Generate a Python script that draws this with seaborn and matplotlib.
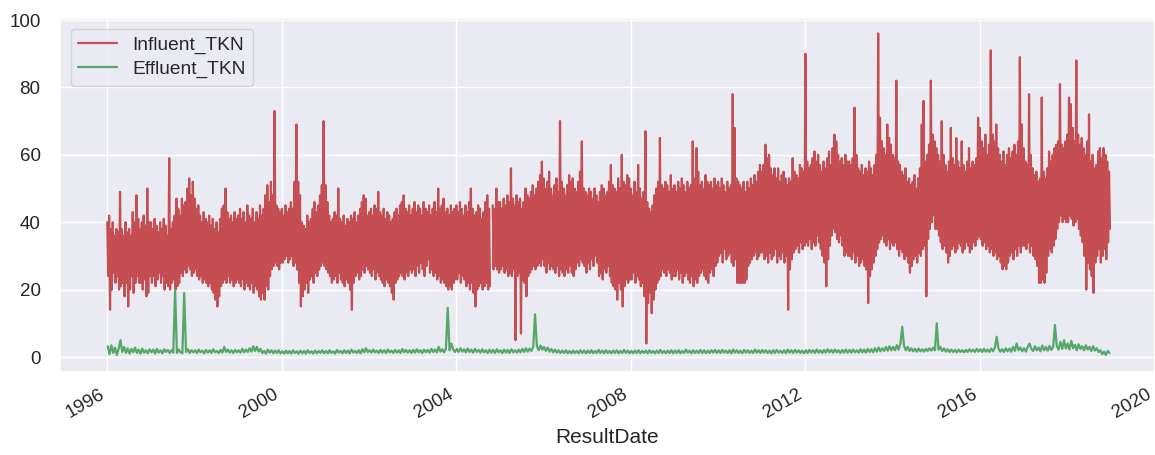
import numpy as np
import pandas as pd
import matplotlib
matplotlib.use("Agg")
import matplotlib.pyplot as plt
import matplotlib.dates as mdates
import seaborn as sns

nan = np.nan
series_names = ["Influent_TKN", "Effluent_TKN"]
years = list(range(1996, 2019))

# Influent TKN: semi-monthly upper / lower readings of the dense daily band
I1996_hi = [40,42,38,40,36,38,37,49,38,36,40,37,38,36,43,40,48,41,38,40,42,39,50,40]
I1996_lo = [24,14,20,25,22,24,20,21,22,18,22,15,20,24,19,22,24,22,22,20,23,18,19,24]
I1997_hi = [40,38,41,39,37,40,38,41,39,36,59,38,40,42,47,44,42,47,45,46,50,53,48,52]
I1997_lo = [22,24,21,23,25,22,24,20,22,21,20,22,23,20,21,22,25,24,26,25,27,26,24,25]
I1998_hi = [47,44,45,42,40,43,41,40,42,39,41,38,40,37,41,44,45,50,43,41,42,40,43,41]
I1998_lo = [26,24,23,24,22,23,22,21,22,20,19,17,15,18,21,22,23,22,24,22,23,21,22,23]
I1999_hi = [42,44,41,43,40,45,42,41,44,40,43,41,45,42,44,48,51,46,52,48,73,45,44,43]
I1999_lo = [22,21,23,20,22,21,20,22,19,21,20,18,17,19,17,21,20,24,26,27,28,27,26,28]
I2000_hi = [44,42,45,43,44,46,44,52,69,52,48,40,39,38,42,40,41,44,46,43,45,48,51,70]
I2000_lo = [28,29,30,28,29,30,27,28,26,22,15,18,20,22,19,23,24,22,25,24,26,27,28,27]
I2001_hi = [51,46,42,40,41,43,42,50,41,40,42,39,41,40,42,41,43,40,42,44,46,48,47,42]
I2001_lo = [26,25,24,22,23,24,22,25,23,22,21,23,22,20,14,22,24,25,23,24,26,25,27,26]
I2002_hi = [43,44,42,45,44,49,43,42,44,41,43,42,40,41,43,44,42,45,46,48,44,43,45,42]
I2002_lo = [25,24,26,23,25,24,23,22,21,23,22,21,19,17,22,23,24,25,24,23,25,24,26,25]
I2003_hi = [44,46,43,45,44,42,46,44,43,45,42,44,46,43,50,44,45,47,43,44,42,45,43,44]
I2003_lo = [26,24,27,25,28,26,24,27,29,25,26,24,25,23,24,22,23,22,21,20,21,20,22,23]
I2004_hi = [45,43,46,44,42,45,43,46,50,44,42,43,45,44,41,43,46,48,44,nan,45,44,50,46]
I2004_lo = [23,25,22,24,23,21,22,20,22,19,15,20,21,22,20,21,22,20,21,nan,26,27,26,25]
I2005_hi = [46,44,47,45,48,46,56,47,45,48,46,47,44,46,50,48,47,49,51,48,50,52,54,58]
I2005_lo = [26,27,25,26,24,25,24,26,5,24,25,7,23,22,18,24,25,26,27,26,27,28,27,29]
I2006_hi = [53,50,52,55,50,48,51,53,49,70,52,50,48,51,54,52,53,50,49,52,55,64,50,49]
I2006_lo = [27,25,28,26,27,26,25,27,24,26,25,24,26,25,27,25,24,26,28,27,29,28,27,25]
I2007_hi = [48,50,49,47,50,48,46,49,51,50,48,49,52,57,51,50,49,53,50,60,52,51,54,53]
I2007_lo = [28,26,29,27,30,28,24,25,23,26,25,27,24,22,21,20,17,22,20,15,21,23,22,23]
I2008_hi = [50,48,52,49,57,50,47,49,67,46,44,43,45,48,50,52,65,51,50,52,51,49,54,50]
I2008_lo = [23,25,22,24,23,21,22,18,4,16,19,13,17,20,22,23,24,26,25,24,26,25,23,24]
I2009_hi = [51,49,52,50,53,51,49,52,50,51,64,53,62,55,51,52,50,54,52,51,52,50,53,51]
I2009_lo = [24,26,23,25,22,24,25,23,22,24,21,23,22,24,25,26,24,23,22,25,26,24,27,28]
I2010_hi = [52,50,53,51,49,52,50,51,78,68,53,52,51,50,52,49,52,50,53,51,54,52,55,57]
I2010_lo = [30,31,28,32,29,30,31,28,27,29,22,22,22,22,22,23,27,28,29,30,31,29,30,31]
I2011_hi = [55,57,63,59,60,56,54,56,53,56,52,54,55,53,51,53,52,59,55,54,53,57,56,55]
I2011_lo = [31,29,30,28,31,29,30,32,28,30,29,31,28,30,14,26,29,31,32,33,31,34,32,33]
I2012_hi = [90,58,56,57,59,61,58,60,57,55,58,56,59,61,57,62,66,64,60,58,59,57,60,58]
I2012_lo = [34,33,35,32,34,33,36,34,32,30,28,21,29,33,36,38,37,35,34,36,33,30,31,30]
I2013_hi = [58,57,59,74,60,56,55,57,54,56,55,58,56,54,57,60,96,71,64,62,60,69,65,63]
I2013_lo = [30,29,31,28,30,27,28,29,27,26,16,24,26,28,30,32,34,35,36,34,33,35,32,34]
I2014_hi = [60,59,82,58,57,55,54,56,52,53,51,52,54,50,53,56,69,76,58,60,63,82,66,64]
I2014_lo = [33,34,32,30,32,31,29,30,28,25,27,29,30,28,31,30,32,33,18,35,38,40,42,38]
I2015_hi = [62,60,58,70,60,57,55,58,68,59,57,65,58,56,64,57,55,58,62,56,58,57,59,71]
I2015_lo = [38,36,34,32,33,31,28,30,32,33,31,32,34,33,31,32,34,33,31,32,34,33,35,36]
I2016_hi = [68,64,62,66,60,63,91,66,64,69,62,60,58,61,57,60,62,59,61,63,60,64,89,69]
I2016_lo = [35,33,34,32,33,31,32,30,31,29,30,28,26,27,26,28,30,31,29,32,30,33,31,33]
I2017_hi = [62,58,57,78,60,56,54,55,52,53,77,55,53,56,61,58,60,62,63,64,81,63,62,64]
I2017_lo = [33,32,34,31,33,30,29,27,22,22,23,22,25,30,32,31,33,35,38,40,42,40,41,40]
I2018_hi = [66,77,75,68,64,88,66,63,65,62,60,64,72,58,60,56,57,61,62,59,62,60,58,55]
I2018_lo = [40,42,41,39,40,41,38,36,34,30,20,28,26,24,19,28,30,32,28,30,32,29,34,38]

# Effluent TKN: semi-monthly readings
E1996 = [3.2,0.8,3.5,1.2,2.8,0.6,2.5,5.0,1.5,3.0,1.2,2.6,1.0,2.4,1.4,2.8,1.2,2.2,1.0,2.5,1.3,2.0,1.1,2.3]
E1997 = [1.4,2.2,1.0,2.4,1.3,2.0,1.1,2.3,1.5,2.1,1.2,2.0,1.3,20.0,1.2,2.2,1.4,1.1,19.0,1.5,2.3,1.2,2.0,1.4]
E1998 = [2.0,1.2,2.2,1.4,1.9,1.1,2.1,1.3,2.0,1.2,2.3,1.4,1.8,1.2,2.1,1.3,3.0,1.5,2.2,1.3,2.0,1.2,2.1,1.4]
E1999 = [2.0,1.3,2.4,1.4,2.2,1.5,2.6,1.6,3.2,1.8,3.0,1.6,2.4,1.2,1.8,1.0,2.2,1.3,2.0,1.1,1.9,1.2,2.0,1.1]
E2000 = [1.7,1.0,1.9,1.1,1.8,1.0,2.0,1.2,1.7,1.0,1.9,1.1,1.8,1.0,2.0,1.2,1.7,1.0,1.9,1.1,1.8,1.2,2.0,1.1]
E2001 = [1.8,1.1,2.0,1.2,1.7,1.0,2.1,1.3,1.8,1.1,2.0,1.2,1.9,1.1,2.2,1.3,1.8,1.2,2.0,1.1,2.3,1.4,2.6,1.5]
E2002 = [2.0,1.3,2.2,1.4,1.9,1.2,2.1,1.3,2.0,1.2,2.2,1.4,1.9,1.2,2.1,1.3,2.0,1.2,2.4,1.4,2.1,1.3,2.0,1.2]
E2003 = [2.1,1.3,2.3,1.4,2.0,1.2,2.2,1.4,2.1,1.3,2.4,1.5,2.2,1.4,3.0,1.6,2.3,1.4,2.5,14.6,2.0,4.0,2.2,1.5]
E2004 = [2.4,1.5,2.6,1.6,2.3,1.4,2.5,1.5,2.2,1.3,2.4,1.5,2.1,1.3,2.3,1.4,2.0,1.2,2.2,1.3,2.1,1.2,2.3,1.4]
E2005 = [2.0,1.2,2.2,1.3,2.1,1.2,2.3,1.4,2.0,1.3,2.2,1.4,2.4,1.5,2.6,1.6,2.5,1.8,3.0,12.7,3.2,2.0,3.4,2.2]
E2006 = [3.0,1.8,2.8,1.6,2.4,1.4,2.2,1.3,2.0,1.2,1.9,1.2,2.0,1.1,1.8,1.1,1.9,1.2,1.8,1.1,2.0,1.2,1.9,1.1]
E2007 = [1.9,1.2,2.0,1.1,1.8,1.2,2.1,1.2,1.9,1.1,2.0,1.2,1.8,1.1,1.9,1.2,2.0,1.1,1.8,1.2,2.1,1.2,1.9,1.1]
E2008 = [1.8,1.1,1.9,1.2,2.0,1.1,1.8,1.2,1.9,1.1,2.0,1.2,1.8,1.1,1.9,1.2,2.1,1.2,1.8,1.1,1.9,1.2,2.0,1.1]
E2009 = [1.9,1.2,2.0,1.1,1.8,1.2,2.2,1.3,1.9,1.1,2.0,1.2,1.9,1.2,2.1,1.2,2.0,1.1,1.9,1.2,2.0,1.3,2.1,1.2]
E2010 = [2.0,1.2,2.1,1.3,1.9,1.2,2.0,1.1,2.2,1.3,2.0,1.2,1.9,1.1,2.1,1.3,2.0,1.2,1.9,1.2,2.2,1.3,2.0,1.2]
E2011 = [2.1,1.3,2.0,1.2,1.9,1.1,2.0,1.2,2.1,1.3,1.9,1.2,2.0,1.1,2.2,1.3,2.0,1.2,2.1,1.3,2.0,1.2,1.9,1.1]
E2012 = [2.0,1.2,2.1,1.3,2.0,1.2,2.2,1.3,2.0,1.2,2.1,1.3,2.3,1.4,2.1,1.3,2.2,1.4,2.0,1.2,2.1,1.3,2.2,1.3]
E2013 = [2.1,1.3,2.2,1.4,2.0,1.3,2.3,1.4,2.2,1.3,2.4,1.5,2.3,1.4,2.6,1.6,2.8,1.7,2.6,1.8,3.0,1.9,3.2,2.0]
E2014 = [3.0,2.0,3.5,2.2,4.0,9.0,3.2,2.0,3.0,1.8,2.6,1.7,2.4,1.6,2.5,1.7,2.3,1.6,2.4,1.8,2.6,1.9,2.8,2.0]
E2015 = [10.0,2.2,3.0,1.8,2.5,1.6,2.3,1.5,2.2,1.5,2.1,1.4,2.2,1.5,2.0,1.4,2.1,1.5,2.3,1.6,2.2,1.5,2.4,1.6]
E2016 = [2.3,1.5,2.4,1.6,2.2,1.5,2.5,1.7,2.8,6.0,2.4,1.6,2.3,1.5,2.6,1.7,2.5,1.6,3.0,1.8,4.0,2.0,2.8,1.7]
E2017 = [2.6,1.6,3.0,4.0,2.4,1.8,3.2,2.0,2.8,1.7,3.4,2.0,3.0,1.9,3.3,2.1,3.0,9.5,3.2,2.2,4.5,2.4,5.0,2.5]
E2018 = [4.0,2.2,4.8,2.6,3.6,2.0,3.8,2.4,3.2,2.0,3.5,2.2,3.0,1.8,3.2,1.9,2.6,1.5,2.0,0.8,1.6,0.6,1.8,1.2]

# ---------------------------------------------------------------------------
g = globals()
rows = []
for y in years:
    hi, lo, ef = g[f"I{y}_hi"], g[f"I{y}_lo"], g[f"E{y}"]
    start = pd.Timestamp(year=y, month=1, day=1)
    for i in range(24):
        d_hi = start + pd.Timedelta(days=365.25 * i / 24)
        d_lo = start + pd.Timedelta(days=365.25 * (i + 0.5) / 24)
        d_ef = start + pd.Timedelta(days=365.25 * (i + 0.25) / 24)
        rows.append((d_hi, hi[i], series_names[0]))
        rows.append((d_lo, lo[i], series_names[0]))
        rows.append((d_ef, ef[i], series_names[1]))

df = pd.DataFrame(rows, columns=["ResultDate", "value", "series"])
df = df.sort_values(["series", "ResultDate"], kind="stable")
# split lines at missing readings
df["seg"] = df.groupby("series")["value"].transform(lambda s: s.isna().cumsum())
df = df.dropna(subset=["value"])
df["unit"] = df["series"] + "_" + df["seg"].astype(str)

sns.set_theme(style="darkgrid", font_scale=1.25)
plt.rcParams["font.family"] = ["Liberation Sans", "DejaVu Sans"]

fig = plt.figure(figsize=(11.55, 4.55), dpi=100)
ax = fig.add_axes([60 / 1155, 1 - 372 / 455, (1155 - 60) / 1155, (372 - 18) / 455])

palette = {"Influent_TKN": "#C44E52", "Effluent_TKN": "#55A868"}
sns.lineplot(data=df, x="ResultDate", y="value", hue="series",
             hue_order=series_names, units="unit", estimator=None,
             sort=False, palette=palette, linewidth=1.6, ax=ax)

ax.set_xlim(pd.Timestamp("1994-12-01"), pd.Timestamp("2020-01-06"))
ax.set_ylim(-4.45, 100.6)
ax.set_yticks([0, 20, 40, 60, 80, 100])
ax.xaxis.set_major_locator(mdates.YearLocator(4))
ax.xaxis.set_major_formatter(mdates.DateFormatter("%Y"))
ax.tick_params(axis="y", length=0, pad=14, labelsize=13.5)
ax.tick_params(axis="x", length=0, pad=10, labelsize=13.5)
for lbl in ax.get_xticklabels():
    lbl.set_rotation(30)
    lbl.set_ha("right")
ax.set_ylabel("")
ax.set_xlabel("ResultDate", fontsize=15, labelpad=4.5)

handles, labels = ax.get_legend_handles_labels()
ax.legend(handles, labels, loc="upper left", fontsize=13.8,
          labelspacing=0.35, borderaxespad=0.55)

fig.savefig("out.png", dpi=100)
